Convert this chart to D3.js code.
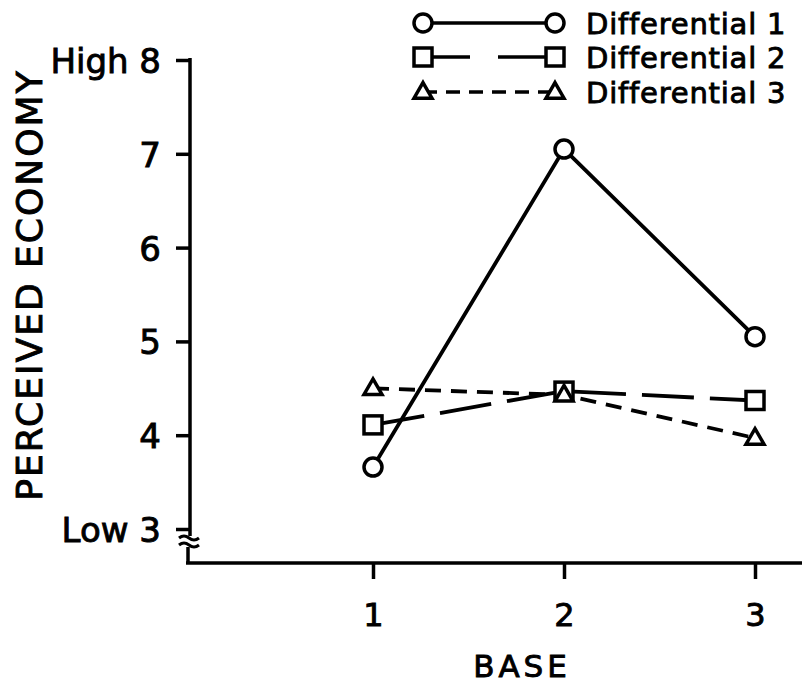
<!DOCTYPE html>
<html>
<head>
<meta charset="utf-8">
<script src="https://cdn.jsdelivr.net/npm/d3@7"></script>
<style>
  body { margin: 0; background: #fff; }
  svg text { font-family: "DejaVu Sans", sans-serif; fill: #000; stroke: #000; stroke-width: 0.9px; }
</style>
</head>
<body>
<svg width="802" height="685"></svg>
<script>
var width = 802;
var height = 685;

// data
var bases = [1, 2, 3];
var seriesNames = ["Differential 1", "Differential 2", "Differential 3"];
var diff1 = [3.66, 7.05, 5.05];
var diff2 = [4.11, 4.47, 4.37];
var diff3 = [4.50, 4.43, 3.97];
var yTicks = [3, 4, 5, 6, 7, 8];
var yTickText = { 3: "Low 3", 8: "High 8" };

var seriesStyle = [
  { marker: "circle", dash: null },
  { marker: "square", dash: "52,16" },
  { marker: "triangle", dash: "16,10" }
];
var series = [diff1, diff2, diff3];

var svg = d3.select("svg");

var x = d3.scaleLinear().domain([1, 3]).range([373, 755]);
var y = d3.scaleLinear().domain([3, 8]).range([529, 60]);

var axisX = 190;
var baseY = 563;

// y axis ticks + labels
var yAxis = svg.append("g")
  .attr("transform", "translate(" + axisX + ",0)")
  .call(d3.axisLeft(y)
    .tickValues(yTicks)
    .tickSize(14)
    .tickPadding(15)
    .tickFormat(d => yTickText[d] || d));
yAxis.select(".domain").remove();
yAxis.selectAll("line").attr("stroke", "#000").attr("stroke-width", 3.5);
yAxis.selectAll("text")
  .attr("font-size", 34)
  .attr("dy", "0.37em")
  .style("font-family", "DejaVu Sans");

// y axis line with break near the bottom
svg.append("line")
  .attr("x1", axisX).attr("x2", axisX)
  .attr("y1", y(8) - 2).attr("y2", 536)
  .attr("stroke", "#000").attr("stroke-width", 3.5);
svg.append("path")
  .attr("d", "M179,538 q5,-4 10,0 q5,4 10,0 M179,545 q5,-4 10,0 q5,4 10,0")
  .attr("fill", "none").attr("stroke", "#000").attr("stroke-width", 3);
svg.append("line")
  .attr("x1", 188).attr("x2", 188)
  .attr("y1", 547).attr("y2", baseY)
  .attr("stroke", "#000").attr("stroke-width", 3.5);

// x axis
var xAxis = svg.append("g")
  .attr("transform", "translate(0," + baseY + ")")
  .call(d3.axisBottom(x)
    .tickValues(bases)
    .tickSize(16)
    .tickPadding(24)
    .tickFormat(d3.format("d")));
xAxis.select(".domain").remove();
xAxis.selectAll("line").attr("stroke", "#000").attr("stroke-width", 3.5);
xAxis.selectAll("text")
  .attr("font-size", 32)
  .style("font-family", "DejaVu Sans");
svg.append("line")
  .attr("x1", 186).attr("x2", width)
  .attr("y1", baseY).attr("y2", baseY)
  .attr("stroke", "#000").attr("stroke-width", 3.5);

// axis titles
svg.append("text")
  .attr("x", 522).attr("y", 677)
  .attr("text-anchor", "middle")
  .attr("font-size", 31)
  .attr("letter-spacing", 4)
  .text("BASE");

svg.append("text")
  .attr("transform", "translate(42,285) rotate(-90)")
  .attr("text-anchor", "middle")
  .attr("font-size", 36)
  .attr("letter-spacing", 2)
  .text("PERCEIVED ECONOMY");

// markers
function drawMarker(g, type, cx, cy) {
  if (type === "circle") {
    g.append("circle").attr("cx", cx).attr("cy", cy).attr("r", 9)
      .attr("fill", "#fff").attr("stroke", "#000").attr("stroke-width", 3.5);
  } else if (type === "square") {
    g.append("rect").attr("x", cx - 9).attr("y", cy - 9)
      .attr("width", 18).attr("height", 18)
      .attr("fill", "#fff").attr("stroke", "#000").attr("stroke-width", 3.5);
  } else {
    g.append("path")
      .attr("d", d3.symbol().type(d3.symbolTriangle).size(140)())
      .attr("transform", "translate(" + cx + "," + (cy + 1) + ")")
      .attr("fill", "#fff").attr("stroke", "#000").attr("stroke-width", 3.5);
  }
}

var line = d3.line().x((d, i) => x(bases[i])).y(d => y(d));

series.forEach(function(vals, k) {
  svg.append("path")
    .datum(vals)
    .attr("d", line)
    .attr("fill", "none")
    .attr("stroke", "#000")
    .attr("stroke-width", 3.8)
    .attr("stroke-dasharray", seriesStyle[k].dash);
});
series.forEach(function(vals, k) {
  var g = svg.append("g");
  vals.forEach(function(v, i) {
    drawMarker(g, seriesStyle[k].marker, x(bases[i]), y(v));
  });
});

// legend
var legendRows = [23, 57, 92];
var legendDash = [null, "47,28", "14,9"];
seriesNames.forEach(function(name, k) {
  var ry = legendRows[k];
  var g = svg.append("g");
  g.append("line")
    .attr("x1", 423).attr("x2", 555)
    .attr("y1", ry).attr("y2", ry)
    .attr("stroke", "#000").attr("stroke-width", 3.5)
    .attr("stroke-dasharray", legendDash[k]);
  drawMarker(g, seriesStyle[k].marker, 423, ry);
  drawMarker(g, seriesStyle[k].marker, 555, ry);
  g.append("text")
    .attr("x", 586).attr("y", ry + 11)
    .attr("font-size", 29)
    .attr("letter-spacing", 0.8)
    .text(name);
});
</script>
</body>
</html>
